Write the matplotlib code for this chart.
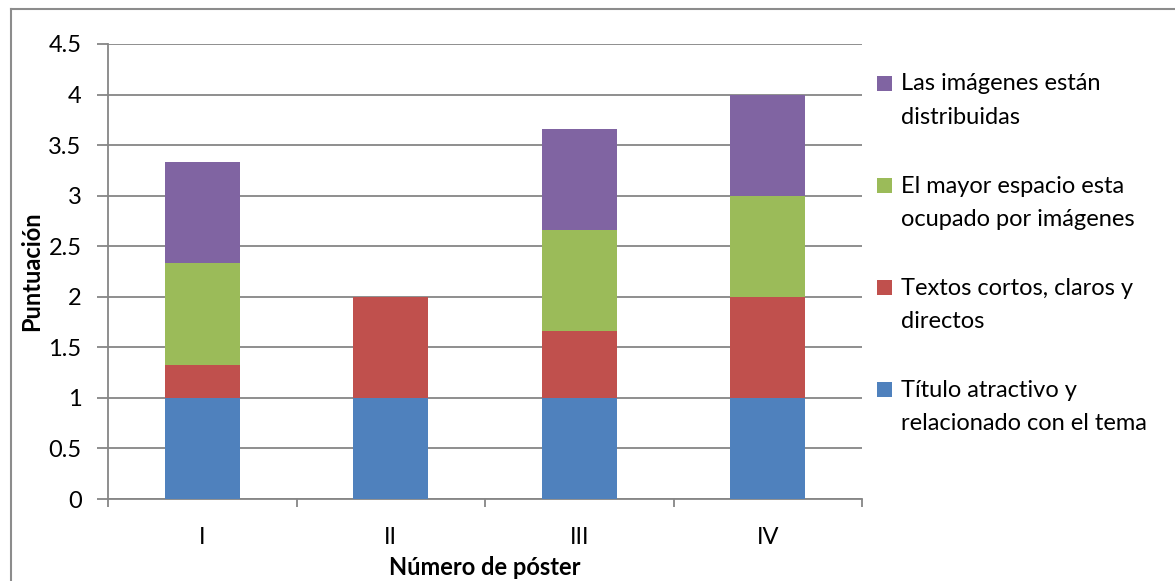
import matplotlib
matplotlib.use("Agg")
import matplotlib.pyplot as plt
from matplotlib.lines import Line2D
from matplotlib.patches import Rectangle
from matplotlib.legend_handler import HandlerPatch
from matplotlib.container import BarContainer
import numpy as np

categories = ["I", "II", "III", "IV"]
series_names = [
    "Título atractivo y\nrelacionado con el tema",
    "Textos cortos, claros y\ndirectos",
    "El mayor espacio esta\nocupado por imágenes",
    "Las imágenes están\ndistribuidas",
]
titulo = [1, 1, 1, 1]
textos = [0.33, 1, 0.66, 1]
espacio = [1, 0, 1, 1]
imagenes = [1, 0, 1, 1]
colors = ["#4F81BD", "#C0504D", "#9BBB59", "#8064A2"]
yticks = [0, 0.5, 1, 1.5, 2, 2.5, 3, 3.5, 4, 4.5]

FS = 17
plt.rcParams["font.family"] = ["Lato", "DejaVu Sans"]
W, H = 1175, 581
fig = plt.figure(figsize=(W / 100, H / 100), dpi=100)
ax = fig.add_axes([108 / W, (H - 499) / H, (862 - 108) / W, (499 - 44) / H])

x = np.arange(len(categories))
bottom = np.zeros(len(categories))
handles = []
for vals, c, name in zip([titulo, textos, espacio, imagenes], colors, series_names):
    b = ax.bar(x, vals, width=0.4, bottom=bottom, color=c, label=name, zorder=3)
    handles.append(b)
    bottom = bottom + np.array(vals)

grid_c = "#868686"
ax.set_xlim(-0.5, len(categories) - 0.5)
ax.set_ylim(0, 4.5)
ax.set_yticks(yticks)
ax.set_yticklabels([f"{v:g}" for v in yticks])
ax.yaxis.grid(True, color=grid_c, linewidth=1.3, zorder=0)
ax.set_axisbelow(True)
ax.set_xticks(x)
ax.set_xticklabels(categories)
ax.set_xticks(np.arange(len(categories) + 1) - 0.5, minor=True)
ax.tick_params(axis="x", which="major", length=0, pad=20, labelsize=FS)
ax.tick_params(axis="x", which="minor", length=6, color=grid_c, width=1.3)
ax.tick_params(axis="y", length=8, color=grid_c, width=1.3, pad=11, labelsize=FS)
for s in ["top", "right"]:
    ax.spines[s].set_visible(False)
for s in ["left", "bottom"]:
    ax.spines[s].set_color(grid_c)
    ax.spines[s].set_linewidth(1.3)

ax.set_xlabel("Número de póster", fontsize=FS, fontweight="bold", labelpad=6)
ax.set_ylabel("Puntuación", fontsize=FS, fontweight="bold", labelpad=4)

LS = 1.72
shift_pt = 17.5 * 0.72


def top_square(legend, orig_handle, xdescent, ydescent, width, height, fontsize):
    return Rectangle((-xdescent, -ydescent + shift_pt), width, height)


def from_first_child(tgt, src):
    child = next(iter(src.get_children()), None)
    if child is not None:
        tgt.update_from(child)


leg = fig.legend(
    handles[::-1], series_names[::-1],
    loc="upper left", bbox_to_anchor=(868 / W, 1 - 64 / H),
    frameon=False, fontsize=FS, handlelength=0.6, handleheight=0.6,
    handletextpad=0.4, labelspacing=2.03, borderaxespad=0,
    handler_map={BarContainer: HandlerPatch(patch_func=top_square, update_func=from_first_child)},
)
for t in leg.get_texts():
    t.set_linespacing(LS)

# figure border (left and top)
fig.add_artist(Line2D([11 / W, 11 / W], [0, 1 - 9 / H], color="#8c8c8c", lw=1.5, transform=fig.transFigure))
fig.add_artist(Line2D([11 / W, 1], [1 - 9 / H, 1 - 9 / H], color="#8c8c8c", lw=1.5, transform=fig.transFigure))

fig.savefig("out.png", dpi=100)
